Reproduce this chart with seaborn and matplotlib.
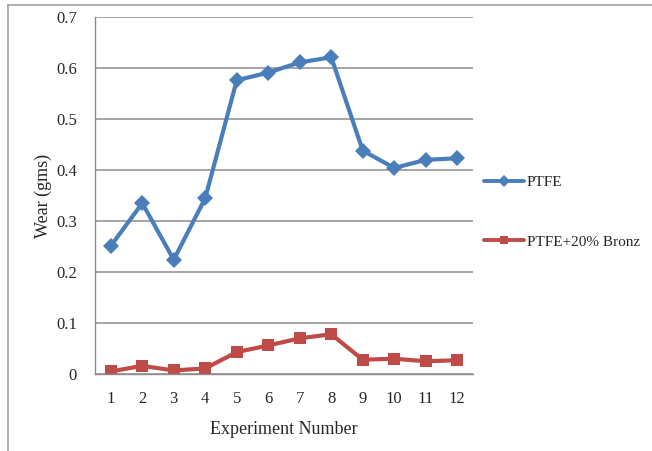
import pandas as pd
import numpy as np
import matplotlib
matplotlib.use("Agg")
import matplotlib.pyplot as plt
import seaborn as sns
from matplotlib.lines import Line2D

# data
experiments = [1, 2, 3, 4, 5, 6, 7, 8, 9, 10, 11, 12]
wear_ptfe = [0.251, 0.335, 0.224, 0.345, 0.576, 0.591, 0.611, 0.621, 0.438, 0.404, 0.420, 0.423]
wear_bronze = [0.005, 0.016, 0.007, 0.011, 0.043, 0.056, 0.070, 0.078, 0.028, 0.030, 0.025, 0.027]
series_names = ["PTFE", "PTFE+20% Bronz"]
y_ticks = [0, 0.1, 0.2, 0.3, 0.4, 0.5, 0.6, 0.7]
y_tick_labels = ["0", "0.1", "0.2", "0.3", "0.4", "0.5", "0.6", "0.7"]

blue = "#4A7EBB"
red = "#BE4B48"
grid_gray = "#8C8C8C"

sns.set_style("white")
plt.rcParams["font.family"] = ["Liberation Serif", "DejaVu Serif"]

df = pd.DataFrame({
    "Experiment": experiments * 2,
    "Wear": wear_ptfe + wear_bronze,
    "Series": [series_names[0]] * 12 + [series_names[1]] * 12,
})

fig = plt.figure(figsize=(6.52, 4.51), dpi=100)
ax = fig.add_axes([0.1457, 0.1707, 0.5798, 0.7916])

sns.lineplot(data=df, x="Experiment", y="Wear", hue="Series", style="Series",
             palette=[blue, red], markers=["D", "s"], dashes=False,
             markersize=8, linewidth=3.0, markeredgewidth=0, ax=ax, legend=False)

ax.set_xlim(0.5, 12.5)
ax.set_ylim(0, 0.7)
ax.set_yticks(y_ticks)
ax.set_yticklabels(y_tick_labels)
ax.set_xticks(experiments)
ax.set_xticklabels([str(e) for e in experiments])
ax.set_xticks(np.arange(0.5, 13, 1), minor=True)
ax.tick_params(axis="x", which="major", length=0, pad=12, labelsize=12)
ax.tick_params(axis="x", which="minor", length=5, color=grid_gray, direction="out")
ax.tick_params(axis="y", length=5, color=grid_gray, direction="out", pad=8, labelsize=12)
ax.yaxis.grid(True, color=grid_gray, linewidth=1.1)
ax.set_axisbelow(True)
for side in ["top", "right"]:
    ax.spines[side].set_visible(False)
for side in ["left", "bottom"]:
    ax.spines[side].set_color(grid_gray)
    ax.spines[side].set_linewidth(1.0)

ax.set_xlabel("Experiment Number", fontsize=13, labelpad=10)
ax.set_ylabel("Wear (gms)", fontsize=13, labelpad=3)

handles = [
    Line2D([], [], color=blue, marker="D", markersize=6, linewidth=2.8, markeredgewidth=0),
    Line2D([], [], color=red, marker="s", markersize=6, linewidth=2.8, markeredgewidth=0),
]
fig.legend(handles, series_names, loc="center left", bbox_to_anchor=(0.722, 0.53),
           frameon=False, fontsize=11, handlelength=2.6, handletextpad=0.15,
           labelspacing=3.0)

# chart border (top and left visible)
fig.add_artist(Line2D([0.012, 0.012], [0, 0.99], transform=fig.transFigure, color="#A0A0A0", linewidth=1.2))
fig.add_artist(Line2D([0.012, 1.0], [0.99, 0.99], transform=fig.transFigure, color="#A0A0A0", linewidth=1.2))

fig.savefig("out.png", dpi=100)
